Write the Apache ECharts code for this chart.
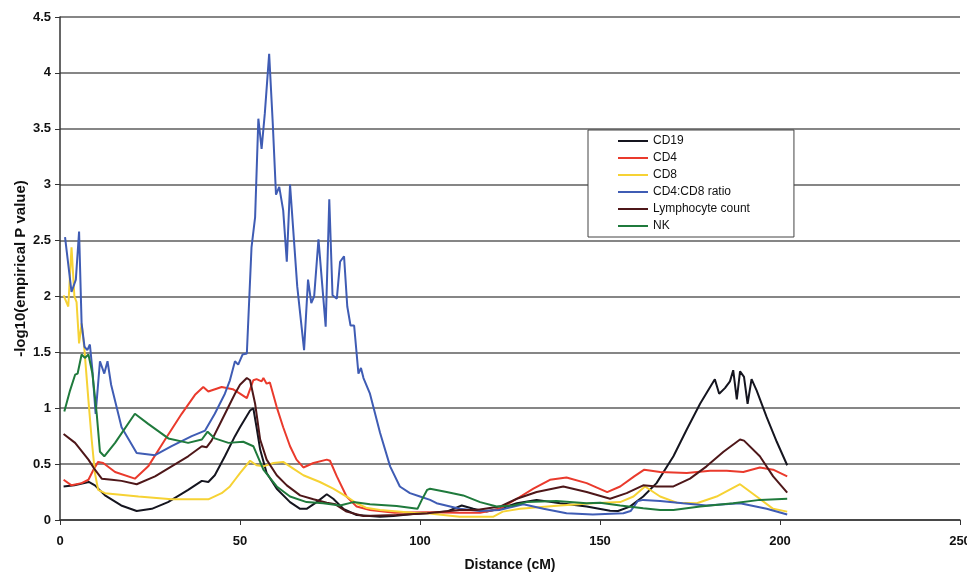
<!DOCTYPE html>
<html>
<head>
<meta charset="utf-8">
<script src="https://cdn.jsdelivr.net/npm/echarts@6/dist/echarts.min.js"></script>
<style>
	html, body { margin: 0; padding: 0; background: #fff; }
	#chart { width: 967px; height: 573px; }
</style>
</head>
<body>
<div id="chart"></div>
<script>
	// [distance cM, -log10 p]
	var cd19 = [[1,0.30],[4,0.31],[8,0.34],[9.7,0.31],[12.5,0.22],[17,0.13],[21.3,0.08],[25.5,0.10],[30,0.16],[35.6,0.27],[39.4,0.35],[41.2,0.34],[43,0.40],[45.8,0.57],[48.6,0.75],[50,0.83],[52.8,0.98],[53.7,1.0],[54.6,0.83],[55.6,0.63],[57.4,0.42],[60.2,0.28],[63.9,0.16],[66.7,0.10],[68.5,0.10],[71.3,0.16],[74.1,0.23],[75.9,0.19],[78.7,0.10],[82.4,0.045],[88.9,0.03],[92.6,0.036],[98,0.054],[102,0.06],[107.4,0.075],[111.6,0.13],[114.8,0.10],[118.5,0.075],[122.2,0.10],[126.9,0.15],[132.4,0.18],[138.9,0.15],[146.3,0.12],[152.8,0.083],[155,0.08],[158.3,0.12],[162,0.21],[165.7,0.33],[170.4,0.57],[174.1,0.81],[177.8,1.04],[180.6,1.19],[181.9,1.26],[183.1,1.13],[184.7,1.18],[186.1,1.24],[187,1.34],[188,1.08],[188.9,1.33],[190,1.28],[191,1.04],[192.1,1.26],[193.5,1.16],[196.3,0.92],[199.1,0.70],[202,0.49]];
	var cd4 = [[1,0.36],[3.2,0.31],[6,0.33],[7.9,0.36],[9.3,0.45],[10.6,0.52],[12,0.51],[15.3,0.43],[20.8,0.37],[24.5,0.48],[29.2,0.72],[33.8,0.95],[37.5,1.12],[39.8,1.19],[41.2,1.15],[44.9,1.19],[48,1.17],[50,1.13],[51.9,1.09],[53.7,1.25],[54.6,1.26],[56,1.24],[56.5,1.27],[57.4,1.22],[58.3,1.23],[60.2,1.01],[62,0.83],[63.9,0.66],[65.7,0.54],[67.6,0.47],[70.4,0.51],[74.1,0.54],[75,0.53],[76.9,0.39],[79.6,0.21],[82.4,0.12],[86.1,0.09],[93,0.065],[102,0.07],[111,0.065],[116.7,0.065],[122.2,0.10],[126.9,0.19],[131.5,0.28],[136.1,0.36],[140.7,0.38],[146.3,0.33],[152,0.25],[155.6,0.30],[159.5,0.39],[162.3,0.45],[166.7,0.43],[174.1,0.42],[180.6,0.44],[185.2,0.44],[189.8,0.43],[194.4,0.47],[198.1,0.45],[202,0.39]];
	var cd8 = [[1,2.01],[2.3,1.91],[3.2,2.44],[4,2.0],[4.6,1.95],[5.3,1.58],[6,1.76],[6.8,1.52],[7.9,1.07],[8.8,0.72],[9.7,0.42],[10.6,0.27],[12.5,0.24],[21.8,0.21],[31,0.185],[41.2,0.185],[44.9,0.24],[47.2,0.30],[48.6,0.36],[50,0.42],[52.8,0.53],[54.6,0.49],[56.5,0.48],[59.3,0.51],[62,0.52],[64.8,0.46],[67.6,0.40],[72.2,0.34],[75.9,0.28],[79.6,0.21],[82.4,0.15],[85,0.11],[88.9,0.09],[98,0.065],[102,0.06],[111,0.03],[120.4,0.03],[123,0.075],[127.8,0.10],[138.9,0.13],[148,0.15],[155.6,0.16],[159.3,0.21],[162.5,0.30],[166.7,0.21],[171.3,0.155],[176.9,0.15],[182.4,0.21],[188.9,0.32],[193.5,0.21],[198.1,0.10],[202,0.075]];
	var ratio = [[1.4,2.53],[3.2,2.04],[4.4,2.15],[5.3,2.58],[6,1.76],[6.8,1.55],[7.6,1.52],[8.3,1.57],[9,1.34],[9.9,0.95],[11.1,1.42],[12.3,1.31],[13.2,1.42],[14.2,1.21],[17.1,0.83],[21.3,0.60],[26.4,0.58],[31,0.66],[36.6,0.75],[40.3,0.80],[43,0.95],[45.8,1.13],[47.2,1.25],[48.6,1.42],[49.5,1.39],[50.7,1.48],[51.9,1.49],[53.2,2.44],[54.2,2.71],[55.1,3.59],[56,3.32],[56.9,3.64],[58.1,4.17],[59.1,3.55],[60,2.91],[60.9,2.98],[62,2.77],[63,2.31],[63.9,3.0],[65,2.50],[65.9,2.09],[66.9,1.79],[67.8,1.52],[68.9,2.15],[69.8,1.94],[70.6,2.0],[71.8,2.51],[73.8,1.73],[74.8,2.87],[75.7,2.01],[76.9,1.98],[77.8,2.31],[78.9,2.36],[79.8,1.91],[80.7,1.74],[81.7,1.74],[82.9,1.31],[83.6,1.36],[84.3,1.27],[86.1,1.13],[88.9,0.78],[91.7,0.48],[94.4,0.30],[97.2,0.24],[100,0.21],[102.8,0.18],[104.6,0.15],[111,0.10],[116.7,0.08],[122,0.09],[128.7,0.14],[134.3,0.10],[140.7,0.06],[148,0.05],[156.5,0.06],[158.5,0.08],[160.5,0.17],[162,0.18],[166.7,0.17],[173,0.15],[179.6,0.13],[188.9,0.15],[196.3,0.10],[202,0.05]];
	var lympho = [[1,0.77],[4.2,0.69],[7.9,0.54],[9.7,0.45],[11.6,0.37],[14.4,0.36],[17.1,0.35],[21.3,0.32],[26.4,0.39],[31,0.48],[35.6,0.57],[39.4,0.66],[40.7,0.65],[42.1,0.71],[44.9,0.89],[48.6,1.13],[50,1.21],[51.9,1.27],[52.8,1.25],[54.2,1.04],[55.6,0.72],[57.4,0.54],[60.2,0.40],[63,0.31],[66.7,0.22],[70.4,0.185],[74.1,0.155],[76.5,0.14],[79.6,0.075],[84.3,0.036],[93.5,0.045],[102,0.06],[111,0.09],[115.7,0.09],[122.2,0.12],[126.9,0.19],[132.4,0.25],[139.8,0.30],[146.3,0.25],[152.8,0.19],[157.4,0.24],[162,0.31],[165.7,0.30],[170.4,0.30],[175,0.37],[179.6,0.48],[184.3,0.61],[188.9,0.72],[190,0.71],[194.4,0.57],[198.1,0.39],[202,0.245]];
	var nk = [[1.2,0.97],[2.8,1.16],[4.2,1.30],[4.9,1.31],[6,1.48],[6.9,1.45],[7.9,1.48],[9,1.31],[10.2,0.95],[11.1,0.61],[12.3,0.57],[15.3,0.69],[20.8,0.95],[24.5,0.86],[30.1,0.73],[35.6,0.69],[39.4,0.72],[41,0.79],[43,0.73],[46.8,0.69],[50.9,0.70],[53.7,0.66],[56.5,0.45],[60.2,0.30],[63.9,0.21],[68.5,0.16],[73.1,0.15],[77.8,0.13],[81.5,0.16],[86.1,0.14],[93.5,0.125],[99.3,0.10],[100.5,0.18],[102,0.27],[102.8,0.28],[107.4,0.25],[112,0.22],[116.7,0.16],[121.3,0.12],[125.9,0.13],[129.6,0.16],[137.9,0.17],[146.3,0.15],[150,0.155],[155.6,0.13],[162,0.105],[166.7,0.09],[170.4,0.09],[177.8,0.12],[187,0.15],[194.4,0.18],[202,0.19]];

	var names = ['CD19', 'CD4', 'CD8', 'CD4:CD8 ratio', 'Lymphocyte count', 'NK'];
	var colors = ['#15151f', '#ea3a2c', '#f6d234', '#3f5cb4', '#4e1719', '#1f7a3c'];
	var values = [cd19, cd4, cd8, ratio, lympho, nk];

	var font = 'Liberation Sans, Arial, sans-serif';
	var series = [];
	for (var i = 0; i < names.length; i++) {
		series.push({
			name: names[i],
			type: 'line',
			data: values[i],
			symbol: 'none',
			smooth: false,
			lineStyle: { width: 2, color: colors[i] },
			itemStyle: { color: colors[i] }
		});
	}

	var myChart = echarts.init(document.getElementById('chart'));
	myChart.setOption({
		animation: false,
		grid: { left: 60, right: 7, top: 17, bottom: 53, outerBoundsMode: 'none' },
		legend: {
			data: names,
			orient: 'vertical',
			left: 588,
			top: 130,
			icon: 'rect',
			itemWidth: 30,
			itemHeight: 2,
			itemGap: 3,
			padding: [4, 44, 4, 30],
			backgroundColor: '#fff',
			borderColor: '#444',
			borderWidth: 1,
			textStyle: { fontFamily: font, fontSize: 12, lineHeight: 14, color: '#111' }
		},
		xAxis: {
			type: 'value',
			min: 0,
			max: 250,
			interval: 50,
			name: 'Distance (cM)',
			nameLocation: 'middle',
			nameGap: 38,
			nameTextStyle: { fontFamily: font, fontSize: 14, fontWeight: 'bold', color: '#111' },
			axisLine: { lineStyle: { color: '#333', width: 1.5 } },
			axisTick: { show: true, length: 5, lineStyle: { color: '#333' } },
			axisLabel: { fontFamily: font, fontSize: 13, fontWeight: 'bold', color: '#111', margin: 15 },
			splitLine: { show: false }
		},
		yAxis: {
			type: 'value',
			min: 0,
			max: 4.5,
			interval: 0.5,
			name: '-log10(empirical P value)',
			nameLocation: 'middle',
			nameGap: 32,
			nameMoveOverlap: false,
			nameTextStyle: { fontFamily: font, fontSize: 15, fontWeight: 'bold', color: '#111' },
			axisLine: { show: true, lineStyle: { color: '#333', width: 1.5 } },
			axisTick: { show: true, length: 5, lineStyle: { color: '#333' } },
			axisLabel: { fontFamily: font, fontSize: 13, fontWeight: 'bold', color: '#111', margin: 9 },
			splitLine: { show: true, lineStyle: { color: '#5e5e5e', width: 1.5 } }
		},
		series: series
	});
</script>
</body>
</html>
